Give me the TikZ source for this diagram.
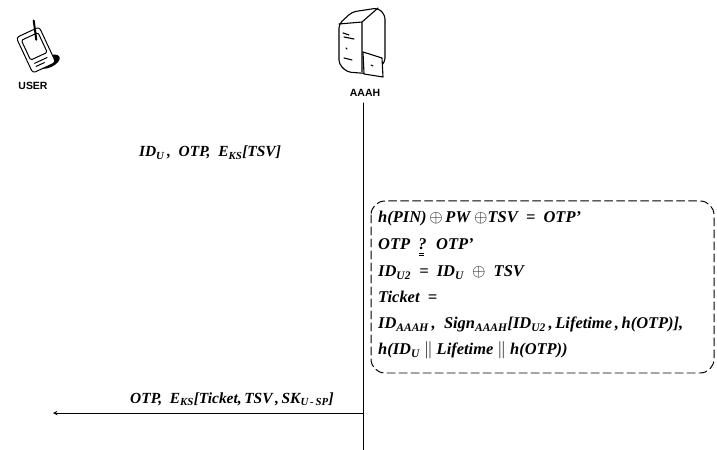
\documentclass[tikz,border=0pt]{standalone}
\usepackage{fontspec}
\setmainfont{Liberation Serif}
\newfontfamily\labelfont{Liberation Sans}
\usetikzlibrary{positioning}
\newcommand{\sub}[1]{\textsubscript{#1}}
% question mark with a small equals sign drawn under it
\newcommand{\qeq}{\makebox[0pt][l]{\hspace{0.5pt}\raisebox{-3.5pt}{\rule{5pt}{0.6pt}}}\makebox[0pt][l]{\hspace{0.5pt}\raisebox{-6pt}{\rule{5pt}{0.6pt}}}?}
\begin{document}
\begin{tikzpicture}[x=1bp, y=-1bp, font=\fontsize{15.5}{18}\selectfont\bfseries\itshape, line cap=round, line join=round, >=stealth,
	actor/.style={font=\labelfont\bfseries\fontsize{10.5}{12}\selectfont},
	msg/.style={inner sep=0pt, anchor=base},
	calcline/.style={inner sep=0pt, anchor=base west, font=\fontsize{16.5}{19}\selectfont\bfseries\itshape},
	calcbox/.style={draw, dash pattern=on 8bp off 4bp, rounded corners=14bp, line width=1pt}]
	\useasboundingbox (0,0) rectangle (717,450);
	% user (PDA)
	\begin{scope}[shift={(36,50)}, yscale=-1, scale=1.15, rotate=-25, line width=1pt]
		\fill (6,-14) ellipse (10 and 5);
		\draw[fill=white, rounded corners=3pt] (-11,-17) rectangle (11,17);
		\draw[rounded corners=1.5pt] (-8,-6) rectangle (8,13);
		\draw (-6,-10) -- (6,-10) (-6,-13) -- (2,-13);
		\draw[line width=2pt] (4,8) -- (9,24);
	\end{scope}
	\node[actor] (user) at (33,86) {USER};
	% AAAH (server)
	\begin{scope}[line width=1.1pt]
		\draw[fill=white, rounded corners=4pt] (339,24) -- (352,12) -- (378,8) -- (385,15) -- (385,62) -- (373,74) -- (347,72) -- (339,64) -- cycle;
		\draw (339,24) -- (362,22) -- (378,8) (362,22) -- (362,72);
		\draw (343,33) -- (349,35) (344,37) -- (354,39) (346,48) -- (347,49) (344,58) -- (352,60);
		\draw[fill=white] (363,52) -- (382,58) -- (383,77) -- (364,74) -- cycle;
		\draw (371,65) -- (373,66);
	\end{scope}
	\node[actor] (aaah) at (365,93) {AAAH};
	\coordinate (life top) at (363,103);
	\coordinate (life end) at (363,450);
	\draw[line width=1pt] (life top) -- (life end);
	% first message
	\node[msg] (req) at (210,157) {ID\sub{U}\,,\ \ OTP,\ \ E\sub{KS}[TSV]};
	% calculations at AAAH
	\draw[calcbox] (371,201) rectangle (714,373);
	\node[calcline] (c1) at (378,223) {h(PIN)\,$\oplus$\,PW $\oplus$TSV \ = \ OTP'};
	\node[calcline] (c2) at (378,250) {OTP \ \qeq{} \ OTP'};
	\node[calcline] (c3) at (378,277) {ID\sub{U2} \ = \ ID\sub{U} \ $\oplus$ \ TSV};
	\node[calcline] (c4) at (378,303) {Ticket \ =};
	\node[calcline] (c5) at (378,329) {ID\sub{AAAH}\,,\ \ Sign\sub{AAAH}[ID\sub{U2}\,,\,Lifetime\,,\,h(OTP)],};
	\node[calcline] (c6) at (378,355) {h(ID\sub{U} $\|$ Lifetime $\|$ h(OTP))};
	% reply
	\node[msg] (rep) at (232,403) {OTP,\ \ E\sub{KS}[Ticket,\,TSV\,,\,SK\sub{U\,-\,SP}]};
	\coordinate (rep start) at (363,413);
	\coordinate (rep end) at (53,413);
	\draw[->, line width=1pt] (rep start) -- (rep end);
\end{tikzpicture}
\end{document}
